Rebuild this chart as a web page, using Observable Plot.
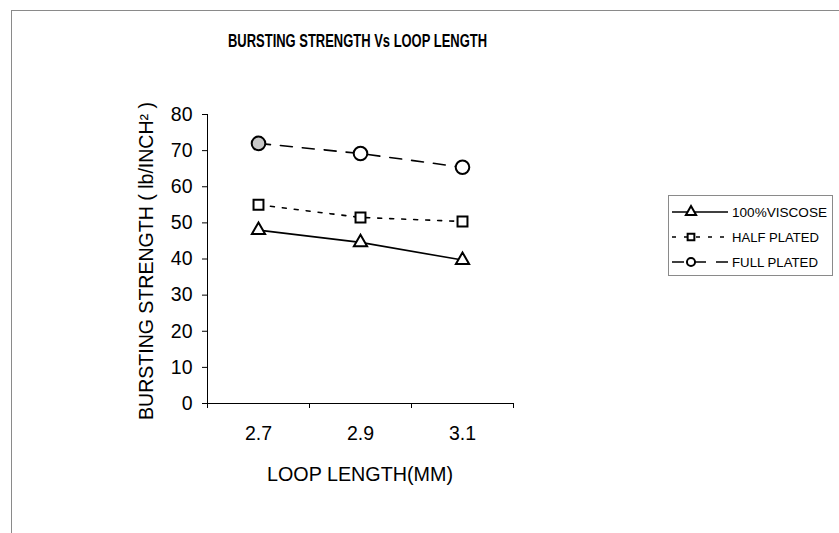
<!DOCTYPE html>
<html><head><meta charset="utf-8">
<script src="https://cdn.jsdelivr.net/npm/d3@7"></script>
<script src="https://cdn.jsdelivr.net/npm/@observablehq/plot@0.6"></script>
<style>
body{margin:0;background:#fff}
svg{font-family:"Liberation Sans",Arial,sans-serif}
</style>
</head><body><div id="chart"></div>
<script>
// ---- data ----
const loopLengths = [2.7, 2.9, 3.1];
const xTickLabels = ["2.7", "2.9", "3.1"];
const categoryEdges = [2.6, 2.8, 3.0, 3.2];
const viscose = [48.0, 44.6, 39.7];
const halfPlated = [55.0, 51.5, 50.4];
const fullPlated = [72.0, 69.2, 65.4];
const seriesNames = ["100%VISCOSE", "HALF PLATED", "FULL PLATED"];
const yTicks = [0, 10, 20, 30, 40, 50, 60, 70, 80];
const chartTitle = "BURSTING STRENGTH Vs LOOP LENGTH";
const xTitle = "LOOP LENGTH(MM)";
const yTitle = "BURSTING STRENGTH ( lb/INCH² )";

// ---- table ----
const seriesValues = [viscose, halfPlated, fullPlated];
const rows = seriesNames.flatMap((s, si) =>
  loopLengths.map((x, i) => ({series: s, x, y: seriesValues[si][i], i})));
const bySeries = s => rows.filter(d => d.series === s);

const seriesStyle = {
  "100%VISCOSE": {dash: null, symbol: "triangle", r: 4.9, lr: 3},
  "HALF PLATED": {dash: "4,8", symbol: "square", r: 5.6, lr: 3},
  "FULL PLATED": {dash: "12,10", symbol: "circle", r: 6.8, lr: 3.2}
};

const marks = [
  Plot.axisY({ticks: yTicks, tickSize: 5, tickPadding: 10, fontSize: 19.5, label: null}),
  Plot.axisX({ticks: categoryEdges, tickSize: 5, tickFormat: () => "", label: null}),
  Plot.axisX({ticks: loopLengths, tickSize: 0, tickPadding: 23, fontSize: 19.5,
    tickFormat: d => xTickLabels[loopLengths.indexOf(d)], label: null}),
  Plot.ruleY([0], {stroke: "#000"}),
  Plot.ruleX([2.6], {stroke: "#000"})
];
for (const s of seriesNames) {
  const st = seriesStyle[s];
  marks.push(Plot.line(bySeries(s), {x: "x", y: "y", stroke: "#000", strokeWidth: 1.6,
    strokeDasharray: st.dash}));
}
for (const s of seriesNames) {
  const st = seriesStyle[s];
  marks.push(Plot.dot(bySeries(s), {x: "x", y: "y", symbol: st.symbol, r: st.r,
    stroke: "#000", strokeWidth: 2,
    fill: d => (s === "FULL PLATED" && d.i === 0) ? "#c8c8c8" : "#fff"}));
}

const plot = Plot.plot({
  width: 839, height: 533,
  marginLeft: 207, marginRight: 326, marginTop: 114, marginBottom: 130,
  x: {domain: [2.6, 3.2]},
  y: {domain: [0, 80]},
  style: {background: "#fff", color: "#000", fontFamily: '"Liberation Sans", Arial, sans-serif'},
  marks
});
document.getElementById("chart").append(plot);

// ---- decorations: frame, titles, legend ----
const svg = d3.select(plot);
svg.insert("rect", ":first-child").attr("x", 11.5).attr("y", 10.5).attr("width", 840).attr("height", 540)
  .attr("fill", "none").attr("stroke", "#8a8a8a").attr("stroke-width", 1);

const deco = svg.append("g").attr("text-anchor", "start");
deco.append("text").text(chartTitle).attr("x", 228).attr("y", 47)
  .attr("font-size", 18.5).attr("font-weight", "bold")
  .attr("textLength", 259).attr("lengthAdjust", "spacingAndGlyphs");
deco.append("text").text(xTitle).attr("x", 267).attr("y", 481)
  .attr("font-size", 19.5).attr("textLength", 186).attr("lengthAdjust", "spacingAndGlyphs");
deco.append("text").text(yTitle).attr("transform", "translate(153,420) rotate(-90)")
  .attr("font-size", 19.5).attr("textLength", 318).attr("lengthAdjust", "spacingAndGlyphs");

const lg = deco.append("g");
lg.append("rect").attr("x", 668.5).attr("y", 195.5).attr("width", 164).attr("height", 80)
  .attr("fill", "#fff").attr("stroke", "#8a8a8a");
const legendY = [212, 237, 262];
const legendTextLen = [95, 87, 86];
seriesNames.forEach((s, i) => {
  const st = seriesStyle[s];
  const y = legendY[i];
  lg.append("line").attr("x1", 672).attr("x2", 728).attr("y1", y).attr("y2", y)
    .attr("stroke", "#000").attr("stroke-width", 1.5)
    .attr("stroke-dasharray", st.dash || null);
  const sym = {triangle: d3.symbolTriangle, square: d3.symbolSquare, circle: d3.symbolCircle}[st.symbol];
  lg.append("path").attr("d", d3.symbol(sym, st.lr * st.lr * Math.PI * 1.6)())
    .attr("transform", `translate(691,${y})`)
    .attr("fill", "#fff").attr("stroke", "#000").attr("stroke-width", 2);
  lg.append("text").text(s).attr("x", 732).attr("y", y + 5)
    .attr("font-size", 13).attr("textLength", legendTextLen[i]).attr("lengthAdjust", "spacingAndGlyphs");
});
</script>
</body></html>
